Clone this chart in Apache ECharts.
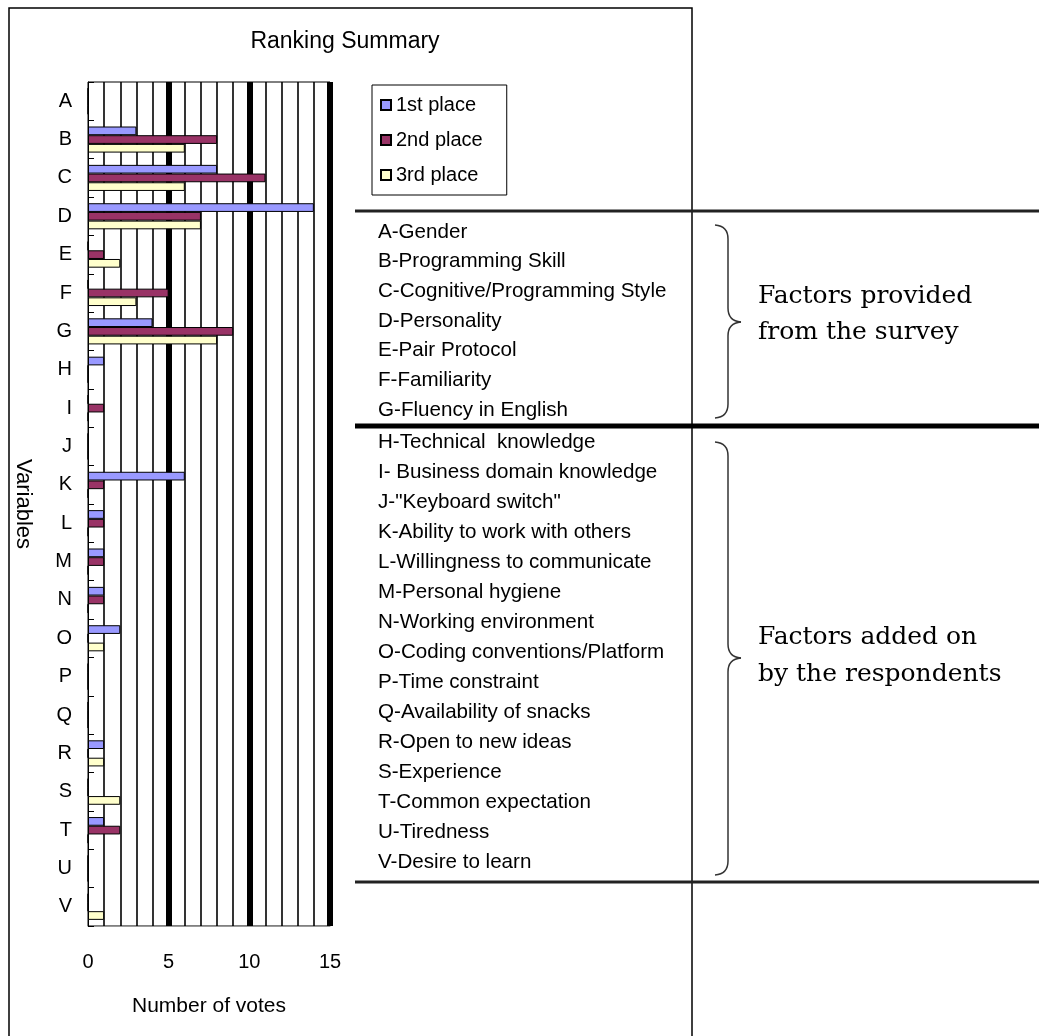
<!DOCTYPE html>
<html>
<head>
<meta charset="utf-8">
<script src="https://cdn.jsdelivr.net/npm/echarts@6/dist/echarts.min.js"></script>
<style>
html,body{margin:0;padding:0;background:#fff;}
#chart{width:1039px;height:1036px;}
</style>
</head>
<body>
<div id="chart"></div>
<script>
const categories = ['A','B','C','D','E','F','G','H','I','J','K','L','M','N','O','P','Q','R','S','T','U','V'];
const seriesNames = ['1st place','2nd place','3rd place'];
const firstPlace  = [0,3,8,14,0,0,4,1,0,0,6,1,1,1,2,0,0,1,0,1,0,0];
const secondPlace = [0,8,11,7,1,5,9,0,1,0,1,1,1,1,0,0,0,0,0,2,0,0];
const thirdPlace  = [0,6,6,7,2,3,8,0,0,0,0,0,0,0,1,0,0,1,2,0,0,1];
const xTicks = [0,5,10,15];
const surveyFactors = ['A-Gender','B-Programming Skill','C-Cognitive/Programming Style','D-Personality','E-Pair Protocol','F-Familiarity','G-Fluency in English'];
const addedFactors = ['H-Technical  knowledge','I- Business domain knowledge','J-"Keyboard switch"','K-Ability to work with others','L-Willingness to communicate','M-Personal hygiene','N-Working environment','O-Coding conventions/Platform','P-Time constraint','Q-Availability of snacks','R-Open to new ideas','S-Experience','T-Common expectation','U-Tiredness','V-Desire to learn'];
const groupNotes = [['Factors provided','from the survey'],['Factors added on','by the respondents']];

const colors = ['#9999FF','#993366','#FFFFCC'];
const FONT = "'Liberation Sans', Arial, sans-serif";
const SERIF = "'DejaVu Serif', 'Liberation Serif', serif";

const chart = echarts.init(document.getElementById('chart'));

const graphics = [];
// outer frame
graphics.push({type:'polyline', shape:{points:[[9,1040],[9,8],[692,8],[692,1040]]}, style:{stroke:'#000', lineWidth:1.5, fill:null}, silent:true});
// horizontal separators
graphics.push({type:'line', shape:{x1:355,y1:211,x2:1039,y2:211}, style:{stroke:'#222', lineWidth:3}});
graphics.push({type:'line', shape:{x1:355,y1:426,x2:1039,y2:426}, style:{stroke:'#000', lineWidth:5}});
graphics.push({type:'line', shape:{x1:355,y1:882,x2:1039,y2:882}, style:{stroke:'#222', lineWidth:3}});
// factor lists
const lineY1 = 232, lineY2 = 442, step1 = 29.7, step2 = 30.05;
surveyFactors.forEach((t,i)=>graphics.push({type:'text', x:378, y:lineY1+i*step1, style:{text:t, font:'20.6px '+FONT, fill:'#000', verticalAlign:'middle', align:'left'}}));
addedFactors.forEach((t,i)=>graphics.push({type:'text', x:378, y:lineY2+i*step2, style:{text:t, font:'20.6px '+FONT, fill:'#000', verticalAlign:'middle', align:'left'}}));
// braces
function brace(top, bottom, tip){
  const xl = 715, xm = 728, xt = 741;
  const st = {stroke:'#333', lineWidth:1.5, fill:null};
  return [
    {type:'bezierCurve', shape:{x1:xl,y1:top,cpx1:xm,cpy1:top+1,x2:xm,y2:top+14}, style:st},
    {type:'line', shape:{x1:xm,y1:top+14,x2:xm,y2:tip-14}, style:st},
    {type:'bezierCurve', shape:{x1:xm,y1:tip-14,cpx1:xm,cpy1:tip-1,x2:xt,y2:tip}, style:st},
    {type:'bezierCurve', shape:{x1:xt,y1:tip,cpx1:xm,cpy1:tip+1,x2:xm,y2:tip+14}, style:st},
    {type:'line', shape:{x1:xm,y1:tip+14,x2:xm,y2:bottom-14}, style:st},
    {type:'bezierCurve', shape:{x1:xm,y1:bottom-14,cpx1:xm,cpy1:bottom-1,x2:xl,y2:bottom}, style:st}
  ];
}
graphics.push(...brace(225,418,322));
graphics.push(...brace(442,875,658));
// notes
graphics.push({type:'text', x:758, y:296, style:{text:groupNotes[0][0], font:'25px '+SERIF, fill:'#000', verticalAlign:'middle'}});
graphics.push({type:'text', x:758, y:332, style:{text:groupNotes[0][1], font:'25px '+SERIF, fill:'#000', verticalAlign:'middle'}});
graphics.push({type:'text', x:758, y:637, style:{text:groupNotes[1][0], font:'25px '+SERIF, fill:'#000', verticalAlign:'middle'}});
graphics.push({type:'text', x:758, y:674, style:{text:groupNotes[1][1], font:'25px '+SERIF, fill:'#000', verticalAlign:'middle'}});

const option = {
  animation:false,
  backgroundColor:'#fff',
  title:{text:'Ranking Summary', left:340, top:25, textAlign:'center', textStyle:{fontFamily:FONT, fontSize:23, fontWeight:'normal', color:'#000'}},
  legend:{
    orient:'vertical', left:372, top:85, itemWidth:10, itemHeight:10, itemGap:15,
    padding:[10,24,10,8], borderColor:'#000', borderWidth:1,
    textStyle:{fontFamily:FONT, fontSize:20, color:'#000'},
    data:seriesNames.map(n=>({name:n, icon:'rect'}))
  },
  grid:{left:88, top:82, width:242, height:844, show:true, borderColor:'#000', borderWidth:1, backgroundColor:'transparent'},
  xAxis:{
    type:'value', min:xTicks[0], max:xTicks[xTicks.length-1], interval:5,
    name:'Number of votes', nameLocation:'middle', nameGap:70,
    nameTextStyle:{fontFamily:FONT, fontSize:21, color:'#000'},
    axisLine:{show:true, lineStyle:{color:'#999', width:1}},
    axisTick:{show:false},
    axisLabel:{fontFamily:FONT, fontSize:20, color:'#000', margin:26},
    splitLine:{show:true, showMinLine:false, showMaxLine:true, lineStyle:{color:'#000', width:6}},
    minorTick:{show:false, splitNumber:5},
    minorSplitLine:{show:true, lineStyle:{color:'#000', width:1.6}}
  },
  yAxis:{
    type:'category', data:categories, inverse:true,
    name:'Variables', nameLocation:'middle', nameGap:54, nameRotate:-90,
    nameTextStyle:{fontFamily:FONT, fontSize:22, color:'#000'},
    axisLine:{show:true, lineStyle:{color:'#000', width:1}},
    axisTick:{show:true, inside:true, length:6, lineStyle:{color:'#000'}},
    axisLabel:{fontFamily:FONT, fontSize:20, color:'#000', margin:16},
    splitLine:{show:false}
  },
  series:[firstPlace, secondPlace, thirdPlace].map((d,i)=>({
    name:seriesNames[i], type:'bar', data:d, barGap:'0%', barCategoryGap:'32%',
    itemStyle:{color:colors[i], borderColor:'#000', borderWidth:1}
  })),
  graphic:graphics
};
chart.setOption(option);
</script>
</body>
</html>
